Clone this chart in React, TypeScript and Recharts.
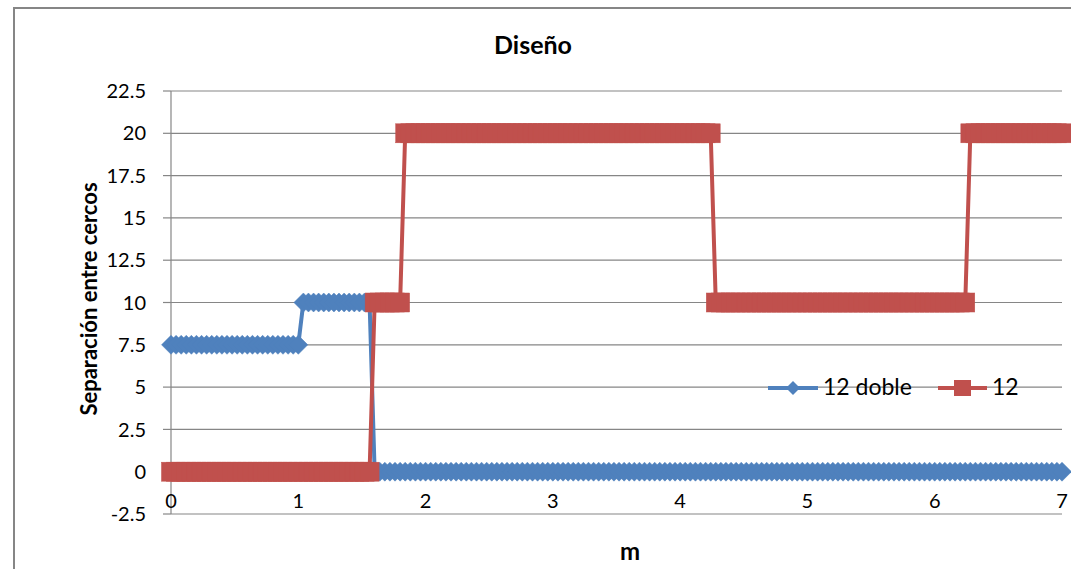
import {LineChart, Line, XAxis, YAxis, CartesianGrid, Legend} from 'recharts';

// x positions (m), sampled every 0.04 m
const xValues = [
  0, 0.04, 0.08, 0.12, 0.16, 0.2, 0.24, 0.28, 0.32, 0.36, 0.4, 0.44, 0.48, 0.52, 0.56, 0.6, 0.64, 0.68, 0.72, 0.76, 0.8, 0.84, 0.88, 0.92, 0.96,
  1, 1.04, 1.08, 1.12, 1.16, 1.2, 1.24, 1.28, 1.32, 1.36, 1.4, 1.44, 1.48, 1.52, 1.56, 1.6, 1.64, 1.68, 1.72, 1.76, 1.8, 1.84, 1.88, 1.92, 1.96,
  2, 2.04, 2.08, 2.12, 2.16, 2.2, 2.24, 2.28, 2.32, 2.36, 2.4, 2.44, 2.48, 2.52, 2.56, 2.6, 2.64, 2.68, 2.72, 2.76, 2.8, 2.84, 2.88, 2.92, 2.96,
  3, 3.04, 3.08, 3.12, 3.16, 3.2, 3.24, 3.28, 3.32, 3.36, 3.4, 3.44, 3.48, 3.52, 3.56, 3.6, 3.64, 3.68, 3.72, 3.76, 3.8, 3.84, 3.88, 3.92, 3.96,
  4, 4.04, 4.08, 4.12, 4.16, 4.2, 4.24, 4.28, 4.32, 4.36, 4.4, 4.44, 4.48, 4.52, 4.56, 4.6, 4.64, 4.68, 4.72, 4.76, 4.8, 4.84, 4.88, 4.92, 4.96,
  5, 5.04, 5.08, 5.12, 5.16, 5.2, 5.24, 5.28, 5.32, 5.36, 5.4, 5.44, 5.48, 5.52, 5.56, 5.6, 5.64, 5.68, 5.72, 5.76, 5.8, 5.84, 5.88, 5.92, 5.96,
  6, 6.04, 6.08, 6.12, 6.16, 6.2, 6.24, 6.28, 6.32, 6.36, 6.4, 6.44, 6.48, 6.52, 6.56, 6.6, 6.64, 6.68, 6.72, 6.76, 6.8, 6.84, 6.88, 6.92, 6.96,
  7,
];

// "12 doble"
const dobleValues = [
  7.5, 7.5, 7.5, 7.5, 7.5, 7.5, 7.5, 7.5, 7.5, 7.5, 7.5, 7.5, 7.5, 7.5, 7.5, 7.5, 7.5, 7.5, 7.5, 7.5, 7.5, 7.5, 7.5, 7.5, 7.5,
  7.5, 10, 10, 10, 10, 10, 10, 10, 10, 10, 10, 10, 10, 10, 10, 0, 0, 0, 0, 0, 0, 0, 0, 0, 0,
  0, 0, 0, 0, 0, 0, 0, 0, 0, 0, 0, 0, 0, 0, 0, 0, 0, 0, 0, 0, 0, 0, 0, 0, 0,
  0, 0, 0, 0, 0, 0, 0, 0, 0, 0, 0, 0, 0, 0, 0, 0, 0, 0, 0, 0, 0, 0, 0, 0, 0,
  0, 0, 0, 0, 0, 0, 0, 0, 0, 0, 0, 0, 0, 0, 0, 0, 0, 0, 0, 0, 0, 0, 0, 0, 0,
  0, 0, 0, 0, 0, 0, 0, 0, 0, 0, 0, 0, 0, 0, 0, 0, 0, 0, 0, 0, 0, 0, 0, 0, 0,
  0, 0, 0, 0, 0, 0, 0, 0, 0, 0, 0, 0, 0, 0, 0, 0, 0, 0, 0, 0, 0, 0, 0, 0, 0,
  0,
];

// "12"
const simpleValues = [
  0, 0, 0, 0, 0, 0, 0, 0, 0, 0, 0, 0, 0, 0, 0, 0, 0, 0, 0, 0, 0, 0, 0, 0, 0,
  0, 0, 0, 0, 0, 0, 0, 0, 0, 0, 0, 0, 0, 0, 0, 10, 10, 10, 10, 10, 10, 20, 20, 20, 20,
  20, 20, 20, 20, 20, 20, 20, 20, 20, 20, 20, 20, 20, 20, 20, 20, 20, 20, 20, 20, 20, 20, 20, 20, 20,
  20, 20, 20, 20, 20, 20, 20, 20, 20, 20, 20, 20, 20, 20, 20, 20, 20, 20, 20, 20, 20, 20, 20, 20, 20,
  20, 20, 20, 20, 20, 20, 20, 10, 10, 10, 10, 10, 10, 10, 10, 10, 10, 10, 10, 10, 10, 10, 10, 10, 10,
  10, 10, 10, 10, 10, 10, 10, 10, 10, 10, 10, 10, 10, 10, 10, 10, 10, 10, 10, 10, 10, 10, 10, 10, 10,
  10, 10, 10, 10, 10, 10, 10, 20, 20, 20, 20, 20, 20, 20, 20, 20, 20, 20, 20, 20, 20, 20, 20, 20, 20,
  20,
];

const xTicks = [0, 1, 2, 3, 4, 5, 6, 7];
const yTicks = [-2.5, 0, 2.5, 5, 7.5, 10, 12.5, 15, 17.5, 20, 22.5];

const BLUE = '#4F81BD';
const RED = '#C0504D';
const GRID = '#868686';
const FONT = 'Lato, "Open Sans", sans-serif';

const data = xValues.map((x, i) => ({
  x,
  doble: dobleValues[i],
  simple: simpleValues[i],
}));

const Diamond = (props: any) => {
  const {cx, cy} = props;
  if (cx == null || cy == null) return null;
  const r = 9.5;
  return (
    <path
      key={props.key}
      d={`M${cx - r},${cy} L${cx},${cy - r} L${cx + r},${cy} L${cx},${cy + r} Z`}
      fill={BLUE}
      stroke={BLUE}
      strokeWidth={0.5}
    />
  );
};

const Square = (props: any) => {
  const {cx, cy} = props;
  if (cx == null || cy == null) return null;
  const r = 9.5;
  return (
    <rect
      key={props.key}
      x={cx - r}
      y={cy - r}
      width={r * 2}
      height={r * 2}
      fill={RED}
      stroke={RED}
      strokeWidth={0.5}
    />
  );
};

const XTick = (props: any) => {
  const {x, y, payload} = props;
  return (
    <text x={x} y={y - 8} textAnchor="middle" fontSize={20} fontFamily={FONT} fill="#000">
      {payload.value}
    </text>
  );
};

const LegendBox = () => (
  <svg width={290} height={34} style={{overflow: 'visible'}}>
    <line x1={8} y1={16} x2={58} y2={16} stroke={BLUE} strokeWidth={4} />
    <path d="M26,16 L33,9 L40,16 L33,23 Z" fill={BLUE} />
    <text x={63} y={23} fontSize={23} fontFamily={FONT} fill="#000">
      12 doble
    </text>
    <line x1={178} y1={16} x2={227} y2={16} stroke={RED} strokeWidth={4} />
    <rect x={194} y={8} width={17} height={16} fill={RED} />
    <text x={232} y={23} fontSize={23} fontFamily={FONT} fill="#000">
      12
    </text>
  </svg>
);

export default function App() {
  return (
    <div
      style={{
        position: 'fixed',
        left: 0,
        top: 0,
        width: 1071,
        height: 569,
        overflow: 'hidden',
        background: '#fff',
        fontFamily: FONT,
      }}
    >
      <div
        style={{
          position: 'absolute',
          left: 13,
          top: 7,
          width: 1100,
          height: 620,
          border: `2px solid ${GRID}`,
        }}
      />
      <LineChart
        width={1071}
        height={569}
        data={data}
        margin={{top: 91, right: 9, left: 0, bottom: 0}}
        style={{position: 'absolute', left: 0, top: 0}}
      >
        <CartesianGrid vertical={false} stroke={GRID} strokeWidth={1.2} />
        <XAxis
          dataKey="x"
          type="number"
          domain={[0, 7]}
          ticks={xTicks}
          height={55}
          axisLine={false}
          tickLine={false}
          tickSize={0}
          tickMargin={2}
          tick={<XTick />}
        />
        <YAxis
          type="number"
          domain={[-2.5, 22.5]}
          ticks={yTicks}
          width={171}
          stroke={GRID}
          axisLine={{stroke: GRID, strokeWidth: 1.2}}
          tickLine={{stroke: GRID, strokeWidth: 1.2}}
          tickSize={8}
          tickMargin={17}
          tick={{fontSize: 20, fontFamily: FONT, fill: '#000'}}
          interval={0}
        />
        <Legend
          verticalAlign="middle"
          align="center"
          layout="horizontal"
          content={<LegendBox />}
          wrapperStyle={{left: 760, top: 372, width: 290, height: 34}}
        />
        <Line
          dataKey="doble"
          name="12 doble"
          type="linear"
          stroke={BLUE}
          strokeWidth={4}
          dot={<Diamond />}
          activeDot={false}
          isAnimationActive={false}
        />
        <Line
          dataKey="simple"
          name="12"
          type="linear"
          stroke={RED}
          strokeWidth={4}
          dot={<Square />}
          activeDot={false}
          isAnimationActive={false}
        />
      </LineChart>
      <svg
        width={1071}
        height={569}
        style={{position: 'absolute', left: 0, top: 0, pointerEvents: 'none'}}
      >
        <text x={533} y={54} textAnchor="middle" fontSize={25} fontWeight="bold" fontFamily={FONT} fill="#000">
          Diseño
        </text>
        <text
          x={0}
          y={0}
          transform="translate(97,299) rotate(-90)"
          textAnchor="middle"
          fontSize={22}
          fontWeight="bold"
          fontFamily={FONT}
          fill="#000"
        >
          Separación entre cercos
        </text>
        <text x={630} y={560} textAnchor="middle" fontSize={24} fontWeight="bold" fontFamily={FONT} fill="#000">
          m
        </text>
      </svg>
    </div>
  );
}
